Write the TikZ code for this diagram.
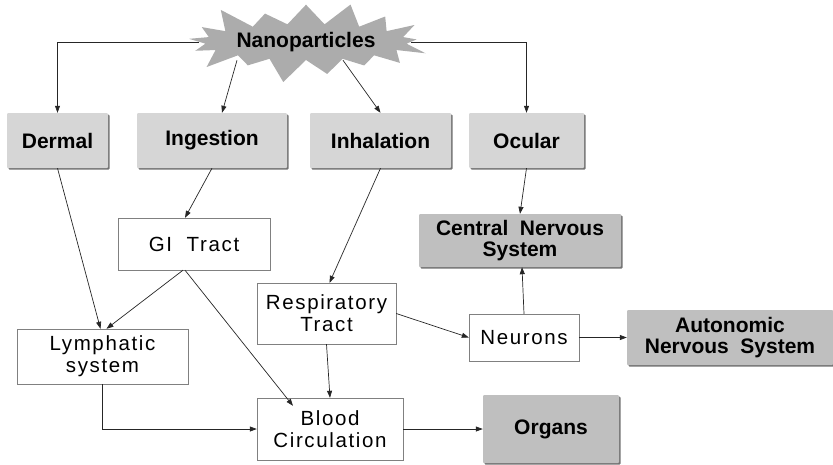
\documentclass[tikz,border=0pt]{standalone}
\usepackage{fontspec}
\setmainfont{Liberation Sans}
\newfontfamily\spacedfont[LetterSpace=8]{Liberation Sans}
\usetikzlibrary{arrows.meta,shapes.symbols,shadows}

\begin{document}
\begin{tikzpicture}[
  x=1pt, y=-1pt,
  every node/.style={align=center, inner sep=2pt},
  entry/.style={fill=gray!32, rounded corners=1pt, minimum height=55pt,
    drop shadow={shadow xshift=1.5pt, shadow yshift=-1.5pt, fill=black!55, opacity=1},
    font=\fontsize{21}{21}\selectfont\bfseries},
  organ/.style={entry, fill=gray!50},
  site/.style={draw=gray, fill=white, font=\spacedfont\fontsize{20.5}{22}\selectfont},
  link/.style={draw=black!85, line width=0.7pt, -{Triangle[length=7pt,width=5pt]}}
]
\useasboundingbox (0,0) rectangle (833,464);

% source
\node[starburst, starburst points=17, starburst point height=27pt, fill=gray!65,
  minimum width=222pt, minimum height=90pt, font=\fontsize{21}{21}\selectfont\bfseries]
  (nano) at (306,42) {Nanoparticles};

% routes of exposure
\node[entry, minimum width=101pt] (dermal) at (57.5,140.5) {Dermal};
\node[entry, minimum width=150pt] (ingest) at (212,140.5) {Ingestion};
\node[entry, minimum width=141pt] (inhal) at (380.5,140.5) {Inhalation};
\node[entry, minimum width=115pt] (ocular) at (526.5,140.5) {Ocular};

% intermediate sites
\node[site, minimum width=152pt, minimum height=52pt] (gi) at (194,244) {GI\ \ Tract};
\node[site, minimum width=139pt, minimum height=61pt] (resp) at (326.5,313.5) {Respiratory\\Tract};
\node[site, minimum width=171pt, minimum height=55pt] (lymph) at (102.5,356.5) {Lymphatic\\system};
\node[site, minimum width=146pt, minimum height=62pt] (blood) at (330,429) {Blood\\Circulation};
\node[site, minimum width=110pt, minimum height=47pt] (neurons) at (524,337.5) {Neurons};

% targets
\node[organ, minimum width=202pt, minimum height=53pt] (cns) at (520,240.5) {Central\hspace{0.55em}Nervous\\System};
\node[organ, minimum width=206pt] (ans) at (730,337.5) {Autonomic\\Nervous\hspace{0.55em}System};
\node[organ, minimum width=136pt, minimum height=68pt] (organs) at (551,429) {Organs};

% connectors
\draw[link] (nano.west) -| (dermal.north);
\draw[link] (nano.east) -| (ocular.north);
\draw[link] ([xshift=-69pt]nano.south) -- ([xshift=10pt]ingest.north);
\draw[link] ([xshift=37pt]nano.south) -- (inhal.north);
\draw[link] (dermal.south) -- ([xshift=-2pt]lymph.north);
\draw[link] (ingest.south) -- ([xshift=-9pt]gi.north);
\draw[link] ([xshift=-11pt]gi.south) -- ([xshift=4pt]lymph.north);
\draw[link] ([xshift=-9pt]gi.south) -- ([xshift=-37pt,yshift=-8pt]blood.north);
\draw[link] (inhal.south) -- ([xshift=3pt]resp.north);
\draw[link] (resp.south) -- (blood.north);
\draw[link] (resp.east) -- (neurons.west);
\draw[link] (neurons.north) -- ([xshift=2pt]cns.south);
\draw[link] (ocular.south) -- (cns.north);
\draw[link] (neurons.east) -- (ans.west);
\draw[link] (lymph.south) |- (blood.west);
\draw[link] (blood.east) -- (organs.west);
\end{tikzpicture}
\end{document}
